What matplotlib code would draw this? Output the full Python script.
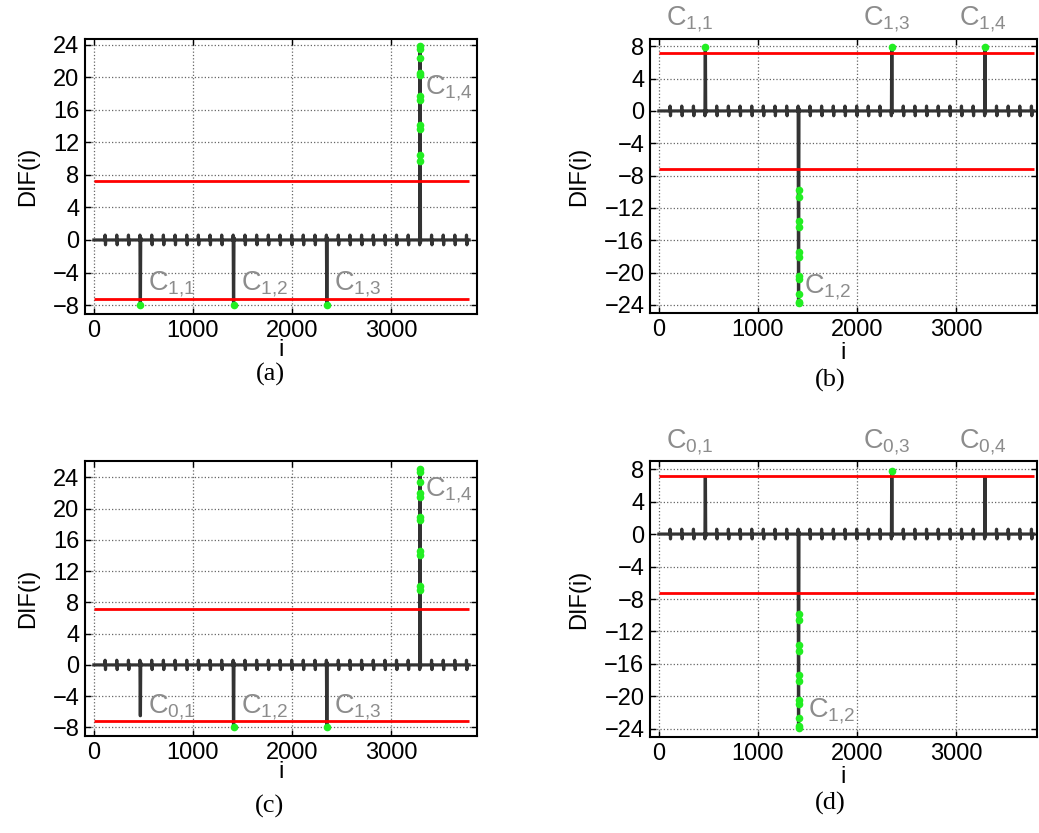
import numpy as np
import matplotlib
matplotlib.use('Agg')
import matplotlib.pyplot as plt

plt.rcParams['font.family'] = ['Liberation Sans', 'DejaVu Sans']
plt.rcParams['mathtext.default'] = 'regular'

# positions of the periodic pulses along i (same in all four panels)
pulse_pos = [115, 233, 351, 469, 586, 704, 822, 940, 1057, 1175, 1293, 1411,
             1528, 1646, 1764, 1882, 2000, 2117, 2235, 2353, 2471, 2588, 2706,
             2824, 2942, 3059, 3177, 3295, 3413, 3531, 3648, 3766]
big_idx = [3, 11, 19, 27]  # pulses that become the large spikes
i_end = 3790
small_up = 0.6
small_down = -0.6
threshold = 7.2

# large spike peak values per panel
peaks_a = [-7.9, -7.9, -7.9, 24.0]
peaks_b = [7.9, -24.0, 7.9, 7.9]
peaks_c = [-6.5, -7.9, -7.9, 25.2]
peaks_d = [7.0, -24.0, 7.8, 7.0]

# green detected points (i, DIF)
green_a_x = [469, 1411, 2353] + [3295] * 11
green_a_y = [-8.0, -8.0, -8.0, 23.8, 23.5, 22.4, 20.5, 20.3, 17.7, 17.2,
             14.1, 13.6, 10.4, 9.7]
green_b_x = [469, 2353, 3295] + [1411] * 11
green_b_y = [7.9, 7.9, 7.9, -9.75, -10.6, -13.6, -14.4, -17.4, -18.1,
             -20.4, -20.8, -22.6, -23.6, -23.8]
green_c_x = [1411, 2353] + [3295] * 11
green_c_y = [-8.0, -8.0, 25.1, 24.7, 23.4, 22.0, 21.5, 18.9, 18.5, 14.6,
             14.1, 10.1, 9.6]
green_d_x = [2353] + [1411] * 11
green_d_y = [7.8, -9.8, -10.6, -13.7, -14.4, -17.4, -18.1, -20.5, -20.9,
             -22.6, -23.7, -23.9]

# spike labels: (text, i, DIF)
labels_a = [('C$_{1{,}1}$', 545, -5.4), ('C$_{1{,}2}$', 1487, -5.4),
            ('C$_{1{,}3}$', 2428, -5.4), ('C$_{1{,}4}$', 3345, 18.6)]
labels_b = [('C$_{1{,}1}$', 70, 11.4), ('C$_{1{,}3}$', 2060, 11.4),
            ('C$_{1{,}4}$', 3030, 11.4), ('C$_{1{,}2}$', 1470, -21.8)]
labels_c = [('C$_{0{,}1}$', 545, -5.4), ('C$_{1{,}2}$', 1487, -5.4),
            ('C$_{1{,}3}$', 2428, -5.4), ('C$_{1{,}4}$', 3345, 22.4)]
labels_d = [('C$_{0{,}1}$', 70, 11.3), ('C$_{0{,}3}$', 2060, 11.3),
            ('C$_{0{,}4}$', 3030, 11.3), ('C$_{1{,}2}$', 1510, -21.8)]


def make_trace(peaks):
    xs = [0]
    ys = [0]
    k = 0
    for n, p in enumerate(pulse_pos):
        if n in big_idx:
            v = peaks[k]
            k += 1
            xs += [p - 8, p - 4, p - 1, p + 1, p + 4, p + 8]
            ys += [0, small_up if v < 0 else small_down, v, v, 0.3 * np.sign(-v), 0]
        else:
            xs += [p - 5, p - 2, p + 2, p + 5]
            ys += [0, small_up, small_down, 0]
    xs.append(i_end)
    ys.append(0)
    return np.array(xs), np.array(ys)


def draw_panel(rect, peaks, gx, gy, labels, ylim, yticks, xlim, xlabel_pad):
    ax = fig.add_axes(rect)
    ax.grid(True, linestyle=':', color='#666666', linewidth=0.9)
    ax.set_axisbelow(True)
    x, y = make_trace(peaks)
    ax.plot(x, y, color='#333333', linewidth=2.3, solid_joinstyle='round')
    ax.hlines([threshold, -threshold], 0, i_end, colors='red', linewidth=2)
    ax.plot(gx, gy, 'o', color='#22ee22', markersize=5.5, markeredgewidth=0)
    for txt, lx, ly in labels:
        ax.text(lx, ly, txt, color='#8c8c8c', fontsize=19.5, va='center',
                ha='left', clip_on=False)
    ax.set_xlim(xlim)
    ax.set_ylim(ylim)
    ax.set_xticks([0, 1000, 2000, 3000])
    ax.set_yticks(yticks)
    ax.tick_params(direction='in', length=4, width=1, labelsize=17,
                   top=True, right=True, pad=4)
    for s in ax.spines.values():
        s.set_linewidth(1.5)
    ax.set_xlabel('i', fontsize=17, labelpad=xlabel_pad)
    ax.set_ylabel('DIF(i)', fontsize=17, labelpad=10)
    return ax


W, H = 1039, 833
fig = plt.figure(figsize=(W / 100, H / 100), dpi=100)


def rect(l, r, t, b):
    return [l / W, (H - b) / H, (r - l) / W, (b - t) / H]


draw_panel(rect(85, 477, 39, 314), peaks_a, green_a_x, green_a_y, labels_a,
           (-9.1, 24.7), list(range(-8, 25, 4)), (-90, 3870), -1.5)
draw_panel(rect(650, 1037, 39, 313), peaks_b, green_b_x, green_b_y, labels_b,
           (-25.0, 8.9), list(range(-24, 9, 4)), (-90, 3820), 1)
draw_panel(rect(85, 477, 461, 736), peaks_c, green_c_x, green_c_y, labels_c,
           (-9.1, 26.1), list(range(-8, 25, 4)), (-90, 3870), -1.5)
draw_panel(rect(650, 1037, 461, 737), peaks_d, green_d_x, green_d_y, labels_d,
           (-25.0, 9.0), list(range(-24, 9, 4)), (-90, 3820), 1)

for cap, cx, cy in [('(a)', 270, 374), ('(b)', 830, 380),
                    ('(c)', 270, 806), ('(d)', 830, 803)]:
    fig.text(cx / W, 1 - cy / H, cap, fontsize=19, family='Liberation Serif',
             ha='center', va='center')

fig.savefig('out.png', dpi=100)
